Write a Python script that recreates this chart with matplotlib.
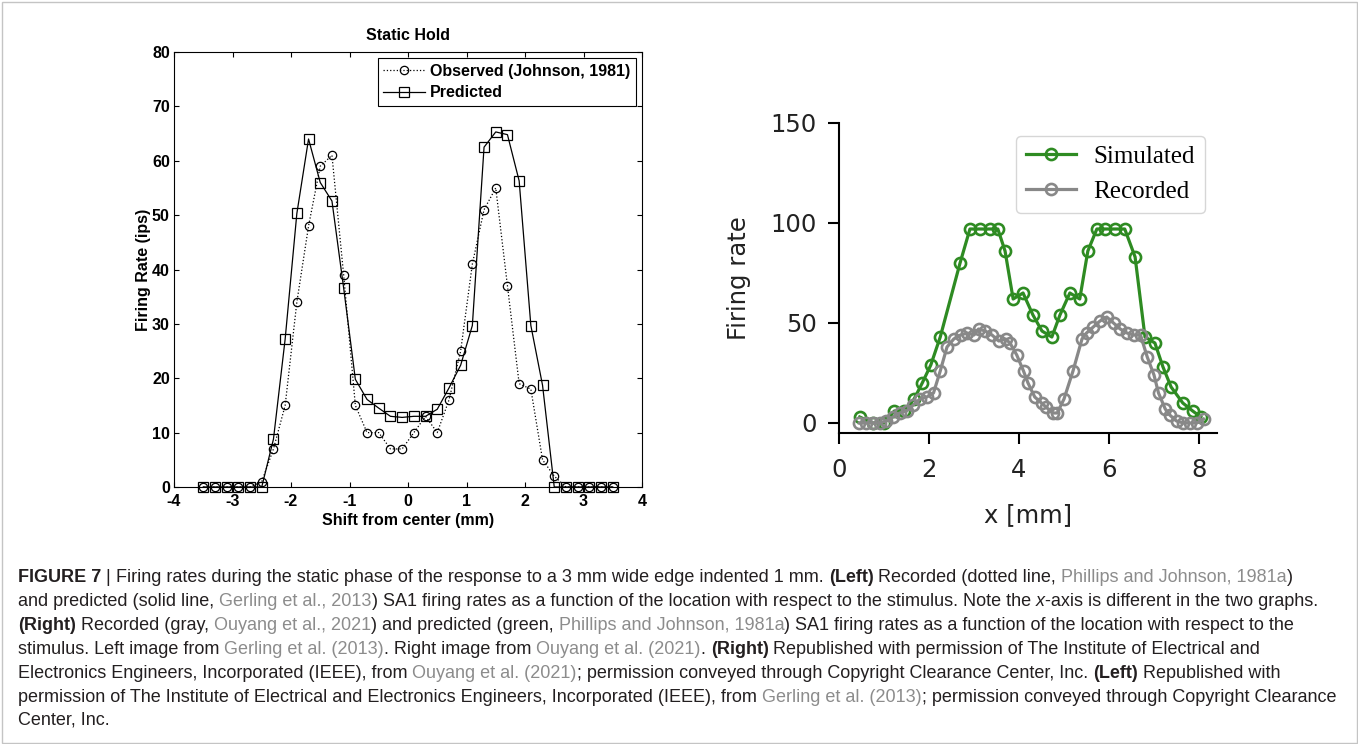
import matplotlib
matplotlib.use('Agg')
import matplotlib.pyplot as plt
from matplotlib import font_manager
from matplotlib.patches import Rectangle

plt.rcParams['axes.unicode_minus'] = False

# left panel (Gerling et al. 2013) - shift from center in mm
shift_mm = [-3.5, -3.3, -3.1, -2.9, -2.7, -2.5, -2.3, -2.1, -1.9, -1.7, -1.5, -1.3,
            -1.1, -0.9, -0.7, -0.5, -0.3, -0.1, 0.1, 0.3, 0.5, 0.7, 0.9, 1.1,
            1.3, 1.5, 1.7, 1.9, 2.1, 2.3, 2.5, 2.7, 2.9, 3.1, 3.3, 3.5]
observed = [0, 0, 0, 0, 0, 1, 7, 15, 34, 48, 59, 61,
            39, 15, 10, 10, 7, 7, 10, 13, 10, 16, 25, 41,
            51, 55, 37, 19, 18, 5, 2, 0, 0, 0, 0, 0]
predicted = [0, 0, 0, 0, 0, 0, 8.8, 27.2, 50.3, 64, 56, 52.6,
             36.6, 19.8, 16.1, 14.5, 13, 12.8, 13, 13, 14.3, 18.2, 22.4, 29.7,
             62.5, 65.3, 64.8, 56.3, 29.7, 18.7, 0, 0, 0, 0, 0, 0]

# right panel (Ouyang et al. 2021)
sim_x = [0.46, 0.75, 1.01, 1.23, 1.45, 1.67, 1.85, 2.04, 2.25, 2.69, 2.91, 3.13,
         3.35, 3.53, 3.69, 3.87, 4.09, 4.31, 4.51, 4.73, 4.91, 5.13, 5.35, 5.53,
         5.73, 5.91, 6.13, 6.35, 6.58, 6.80, 7.02, 7.20, 7.38, 7.64, 7.86, 8.04]
sim_y = [3, 0, 0, 6, 6, 12, 20, 29, 43, 80, 97, 97,
         97, 97, 86, 62, 65, 54, 46, 43, 54, 65, 62, 86,
         97, 97, 97, 97, 83, 43, 40, 28, 18, 10, 6, 3]
rec_x = [0.45, 0.6, 0.75, 0.9, 1.05, 1.2, 1.35, 1.5, 1.65, 1.8, 1.95, 2.1,
         2.25, 2.4, 2.55, 2.7, 2.85, 3.0, 3.1, 3.25, 3.4, 3.55, 3.7, 3.8,
         3.95, 4.1, 4.2, 4.35, 4.5, 4.6, 4.75, 4.85, 5.0, 5.2, 5.4, 5.5,
         5.65, 5.8, 5.95, 6.1, 6.25, 6.4, 6.55, 6.7, 6.85, 7.0, 7.1, 7.25,
         7.35, 7.5, 7.65, 7.8, 7.95, 8.1]
rec_y = [0, 0, 0, 0, 1, 3, 5, 6, 9, 12, 13, 15,
         26, 38, 42, 44, 45, 44, 47, 46, 44, 41, 42, 40,
         34, 26, 20, 13, 10, 8, 5, 5, 12, 26, 42, 45,
         48, 51, 53, 50, 47, 45, 44, 44, 33, 24, 15, 7,
         4, 1, 0, 0, 0, 2]

W, H = 1358, 744
fig = plt.figure(figsize=(W / 100, H / 100), dpi=100)
fig.patches.append(Rectangle((1.5 / W, 1.5 / H), 1 - 3.0 / W, 1 - 3.0 / H,
                             transform=fig.transFigure, fill=False,
                             edgecolor='#c4c4c4', linewidth=1))

# ---------------- left panel, matlab look ----------------
arial = 'Liberation Sans'
ax1 = fig.add_axes([174 / W, 1 - 487 / H, (642 - 174) / W, (487 - 52) / H])
ax1.plot(shift_mm, observed, linestyle=':', color='k', linewidth=0.9, marker='o',
         markersize=6, markerfacecolor='none', markeredgewidth=0.9,
         label='Observed (Johnson, 1981)', clip_on=False)
ax1.plot(shift_mm, predicted, linestyle='-', color='k', linewidth=0.9, marker='s',
         markersize=7, markerfacecolor='none', markeredgewidth=0.9,
         label='Predicted', clip_on=False)
ax1.set_xlim(-4, 4)
ax1.set_ylim(0, 80)
ax1.set_xticks(range(-4, 5))
ax1.set_yticks(range(0, 81, 10))
ax1.tick_params(direction='in', top=True, right=True, length=3.5, width=0.8,
                labelsize=11.5, pad=3)
ax1.tick_params(axis='x', pad=5)
for lbl in ax1.get_xticklabels() + ax1.get_yticklabels():
    lbl.set_fontweight('bold')
    lbl.set_family(arial)
for sp in ax1.spines.values():
    sp.set_linewidth(0.8)
ax1.set_title('Static Hold', fontsize=11.5, fontweight='bold', family=arial, pad=9)
ax1.set_xlabel('Shift from center (mm)', fontsize=11.5, fontweight='bold',
               family=arial, labelpad=3)
ax1.set_ylabel('Firing Rate (ips)', fontsize=11.5, fontweight='bold',
               family=arial, labelpad=1)
leg1 = ax1.legend(loc='upper right', fancybox=False, framealpha=1, edgecolor='k',
                  handlelength=2.6, borderaxespad=0.4, borderpad=0.35,
                  labelspacing=0.4, handletextpad=0.3,
                  prop={'family': arial, 'weight': 'bold', 'size': 11.5})
leg1.get_frame().set_linewidth(0.8)

# ---------------- right panel, python look ----------------
ax2 = fig.add_axes([839 / W, 1 - 433 / H, (1217 - 839) / W, (433 - 123) / H])
ax2.plot(sim_x, sim_y, color='#2e8b22', linewidth=2.3, marker='o', markersize=8,
         markerfacecolor='none', markeredgewidth=1.9, label='Simulated', clip_on=False)
ax2.plot(rec_x, rec_y, color='#888888', linewidth=2.3, marker='o', markersize=8,
         markerfacecolor='none', markeredgewidth=1.9, label='Recorded', clip_on=False)
ax2.set_xlim(0, 8.4)
ax2.set_ylim(-5, 150)
ax2.set_xticks([0, 2, 4, 6, 8])
ax2.set_yticks([0, 50, 100, 150])
ax2.spines['top'].set_visible(False)
ax2.spines['right'].set_visible(False)
for sp in ('left', 'bottom'):
    ax2.spines[sp].set_linewidth(1.5)
ax2.tick_params(length=8, width=1.5, labelsize=17.5, pad=8, labelcolor='#222222')
ax2.tick_params(axis='x', pad=10)
ax2.set_xlabel('x [mm]', fontsize=17.5, labelpad=15, color='#222222')
ax2.set_ylabel('Firing rate', fontsize=17.5, labelpad=14, color='#222222')
ax2.legend(loc='upper right', prop={'family': 'Liberation Serif', 'size': 18},
           handlelength=2.0, handletextpad=0.7)

# ---------------- caption ----------------
installed = {f.name for f in font_manager.fontManager.ttflist}
cap_font = 'Liberation Sans Narrow' if 'Liberation Sans Narrow' in installed else 'Liberation Sans'
txt_col = '#231f20'
link_col = '#8c8c8c'

caption = [
    [('FIGURE 7', 'b'), (' | ', 'n'),
     ('Firing rates during the static phase of the response to a 3 mm wide edge indented 1 mm. ', 'n'),
     ('(Left)', 'b'), (' Recorded (dotted line, ', 'n'), ('Phillips and Johnson, 1981a', 'l'), (')', 'n')],
    [('and predicted (solid line, ', 'n'), ('Gerling et al., 2013', 'l'),
     (') SA1 firing rates as a function of the location with respect to the stimulus. Note the ', 'n'),
     ('x', 'i'), ('-axis is different in the two graphs.', 'n')],
    [('(Right)', 'b'), (' Recorded (gray, ', 'n'), ('Ouyang et al., 2021', 'l'),
     (') and predicted (green, ', 'n'), ('Phillips and Johnson, 1981a', 'l'),
     (') SA1 firing rates as a function of the location with respect to the', 'n')],
    [('stimulus. Left image from ', 'n'), ('Gerling et al. (2013)', 'l'),
     ('. Right image from ', 'n'), ('Ouyang et al. (2021)', 'l'), ('. ', 'n'),
     ('(Right)', 'b'), (' Republished with permission of The Institute of Electrical and', 'n')],
    [('Electronics Engineers, Incorporated (IEEE), from ', 'n'), ('Ouyang et al. (2021)', 'l'),
     ('; permission conveyed through Copyright Clearance Center, Inc. ', 'n'),
     ('(Left)', 'b'), (' Republished with', 'n')],
    [('permission of The Institute of Electrical and Electronics Engineers, Incorporated (IEEE), from ', 'n'),
     ('Gerling et al. (2013)', 'l'), ('; permission conveyed through Copyright Clearance', 'n')],
    [('Center, Inc.', 'n')],
]
line_y = [578, 602, 626, 650, 673, 697, 720]

renderer = fig.canvas.get_renderer()


def seg_props(kind, size):
    p = dict(fontsize=size, family=cap_font, color=txt_col)
    if kind == 'b':
        p['fontweight'] = 'bold'
    elif kind == 'i':
        p['style'] = 'italic'
    elif kind == 'l':
        p['color'] = link_col
    return p


def seg_width(s, kind, size):
    # bars on both sides so leading/trailing spaces are counted
    t = fig.text(0, 0, '|' + s + '|', **seg_props(kind, size))
    t2 = fig.text(0, 0, '||', **seg_props(kind, size))
    w = t.get_window_extent(renderer).width - t2.get_window_extent(renderer).width
    t.remove()
    t2.remove()
    return w


base = 12.0
widest = max(sum(seg_width(s, k, base) for s, k in segs) for segs in caption)
cap_size = base * (1341 - 18) / widest

for segs, yy in zip(caption, line_y):
    x = 18.0
    for s, k in segs:
        fig.text(x / W, 1 - yy / H, s, va='center', ha='left', **seg_props(k, cap_size))
        x += seg_width(s, k, cap_size)

fig.savefig('out.png', dpi=100)
